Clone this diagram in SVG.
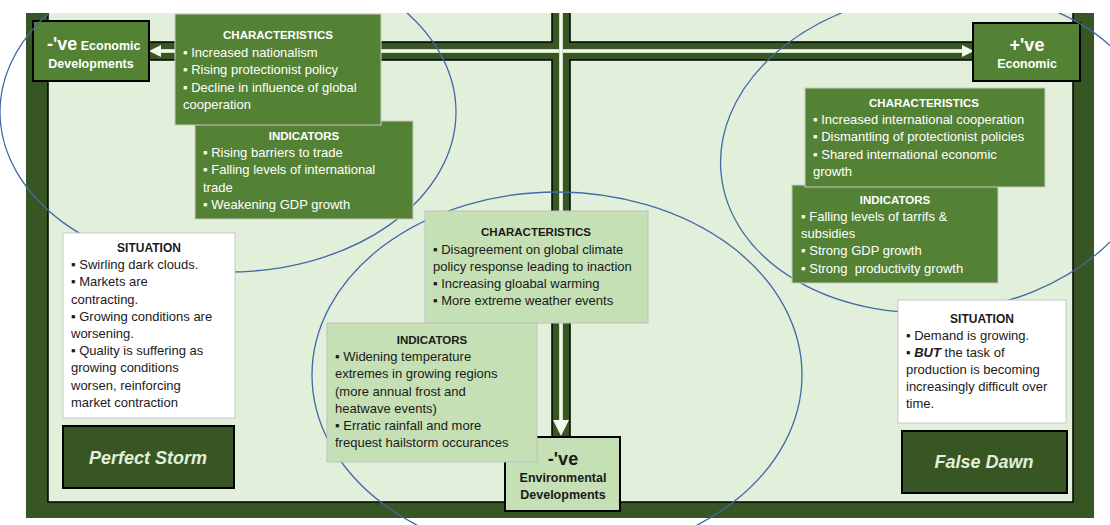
<svg xmlns="http://www.w3.org/2000/svg" width="1110" height="525" viewBox="0 0 1110 525">
<style>
text{font-family:"Liberation Sans",Arial,"DejaVu Sans",sans-serif;}
.body{font-size:13px;}
.ttl{font-size:11.5px;font-weight:bold;text-anchor:middle;}
.w{fill:#ffffff;}
.k{fill:#1a1a1a;}
.dbox{fill:#548235;stroke:#c9c9c9;stroke-width:1;}
.lbox{fill:#c5e0b4;stroke:#bfbfbf;stroke-width:1;}
.wbox{fill:#ffffff;stroke:#c8c8c8;stroke-width:1;}
.node{stroke:#000;stroke-width:2;}
.scen{fill:#375623;stroke:#000;stroke-width:2;}
.scent{font-size:18px;font-weight:bold;font-style:italic;fill:#e2efda;text-anchor:middle;}
.zone{fill:none;stroke:#4169a8;stroke-width:1.3;}
.nt{font-weight:bold;text-anchor:middle;}
</style>
<defs>
<clipPath id="top"><rect x="0" y="13" width="1110" height="512"/></clipPath>
</defs>
<g id="frame">
<rect x="26" y="13" width="1068" height="505" fill="#375623"/>
<rect x="48" y="13" width="1025" height="489" fill="#e2efda"/>
<path d="M48,13 V502 H1073 V13" fill="none" stroke="#000" stroke-width="1.5"/>
</g>
<g id="connectors" clip-path="url(#top)">
<path d="M148,42 H552 V10 H570 V42 H973 V60 H570 V437 H552 V60 H148 Z" fill="#375623" stroke="#000" stroke-width="1.5"/>
<line x1="160" y1="51" x2="963" y2="51" stroke="#cfe3c3" stroke-width="4"/>
<line x1="160" y1="51" x2="963" y2="51" stroke="#ffffff" stroke-width="1.5"/>
<line x1="561" y1="10" x2="561" y2="421" stroke="#cfe3c3" stroke-width="4"/>
<line x1="561" y1="10" x2="561" y2="421" stroke="#ffffff" stroke-width="1.5"/>
<polygon points="149,51 161,45 161,57" fill="#f2f8ee"/>
<polygon points="974,51 962,45 962,57" fill="#f2f8ee"/>
<polygon points="561,436 553,420 569,420" fill="#f2f8ee"/>
</g>
<g id="node-neg-econ">
<rect x="33" y="21" width="116" height="60" fill="#548235" class="node"/>
<text x="47" y="50" class="w" font-weight="bold"><tspan font-size="18">-'ve</tspan><tspan font-size="12.5"> Economic</tspan></text>
<text x="91" y="68" class="w nt" font-size="12.5">Developments</text>
</g>
<g id="node-pos-econ">
<rect x="973" y="23" width="107" height="58" fill="#548235" class="node"/>
<text x="1027" y="51" class="w nt" font-size="18">+'ve</text>
<text x="1027" y="68" class="w nt" font-size="12.5">Economic</text>
</g>
<g id="node-neg-env">
<rect x="505" y="437" width="115" height="74" fill="#c5e0b4" class="node"/>
<text x="563" y="465" class="k nt" font-size="18">-'ve</text>
<text x="563" y="482" class="k nt" font-size="12.5">Environmental</text>
<text x="563" y="499" class="k nt" font-size="12.5">Developments</text>
</g>
<g id="zones" clip-path="url(#top)">
<ellipse cx="228" cy="112" rx="228" ry="160" class="zone"/>
<ellipse cx="938" cy="152" rx="218" ry="160" class="zone" transform="rotate(-6 938 152)"/>
<ellipse cx="557" cy="375" rx="245" ry="183" class="zone"/>
</g>
<g id="neg-econ-indicators">
<rect x="195" y="121" width="218" height="98" class="dbox"/>
<text x="304" y="140" class="ttl w">INDICATORS</text>
<text class="body w"><tspan x="203" y="157">▪ Rising barriers to trade</tspan><tspan x="203" y="174">▪ Falling levels of international</tspan><tspan x="203" y="192">trade</tspan><tspan x="203" y="209">▪ Weakening GDP growth</tspan></text>
</g>
<g id="neg-econ-characteristics">
<rect x="175" y="14" width="206" height="111" class="dbox"/>
<text x="278" y="39" class="ttl w">CHARACTERISTICS</text>
<text class="body w"><tspan x="183" y="57">▪ Increased nationalism</tspan><tspan x="183" y="74">▪ Rising protectionist policy</tspan><tspan x="183" y="92">▪ Decline in influence of global</tspan><tspan x="183" y="109">cooperation</tspan></text>
</g>
<g id="pos-econ-indicators">
<rect x="792" y="185" width="206" height="98" class="dbox"/>
<text x="895" y="204" class="ttl w">INDICATORS</text>
<text class="body w"><tspan x="801" y="221">▪ Falling levels of tarrifs &amp;</tspan><tspan x="801" y="238">subsidies</tspan><tspan x="801" y="255">▪ Strong GDP growth</tspan><tspan x="801" y="273">▪ Strong&#160; productivity growth</tspan></text>
</g>
<g id="pos-econ-characteristics">
<rect x="805" y="88" width="240" height="99" class="dbox"/>
<text x="924" y="107" class="ttl w">CHARACTERISTICS</text>
<text class="body w"><tspan x="813" y="124">▪ Increased international cooperation</tspan><tspan x="813" y="141">▪ Dismantling of protectionist policies</tspan><tspan x="813" y="159">▪ Shared international economic</tspan><tspan x="813" y="176">growth</tspan></text>
</g>
<g id="env-indicators">
<rect x="327" y="323" width="210" height="139" class="lbox"/>
<text x="432" y="344" class="ttl k">INDICATORS</text>
<text class="body k"><tspan x="335" y="361">▪ Widening temperature</tspan><tspan x="335" y="378">extremes in growing regions</tspan><tspan x="335" y="396">(more annual frost and</tspan><tspan x="335" y="413">heatwave events)</tspan><tspan x="335" y="430">▪ Erratic rainfall and more</tspan><tspan x="335" y="447">frequest hailstorm occurances</tspan></text>
</g>
<g id="env-characteristics">
<rect x="425" y="211" width="223" height="112" class="lbox"/>
<text x="536" y="236" class="ttl k">CHARACTERISTICS</text>
<text class="body k"><tspan x="433" y="254">▪ Disagreement on global climate</tspan><tspan x="433" y="271">policy response leading to inaction</tspan><tspan x="433" y="288">▪ Increasing gloabal warming</tspan><tspan x="433" y="305">▪ More extreme weather events</tspan></text>
</g>
<g id="situation-perfect-storm">
<rect x="63" y="233" width="172" height="185" class="wbox"/>
<text x="149" y="252" class="k nt" font-size="12">SITUATION</text>
<text class="body k"><tspan x="71" y="269">▪ Swirling dark clouds.</tspan><tspan x="71" y="286">▪ Markets are</tspan><tspan x="71" y="303.5">contracting.</tspan><tspan x="71" y="320.5">▪ Growing conditions are</tspan><tspan x="71" y="338">worsening.</tspan><tspan x="71" y="355">▪ Quality is suffering as</tspan><tspan x="71" y="372">growing conditions</tspan><tspan x="71" y="389.5">worsen, reinforcing</tspan><tspan x="71" y="406.5">market contraction</tspan></text>
</g>
<g id="scenario-perfect-storm">
<rect x="63" y="426" width="171" height="62" class="scen"/>
<text x="148" y="464" class="scent">Perfect Storm</text>
</g>
<g id="situation-false-dawn">
<rect x="898" y="300" width="168" height="123" class="wbox"/>
<text x="982" y="323" class="k nt" font-size="12">SITUATION</text>
<text class="body k"><tspan x="906" y="340">▪ Demand is growing.</tspan><tspan x="906" y="357">▪ <tspan font-weight="bold" font-style="italic">BUT</tspan> the task of</tspan><tspan x="906" y="374">production is becoming</tspan><tspan x="906" y="391">increasingly difficult over</tspan><tspan x="906" y="408">time.</tspan></text>
</g>
<g id="scenario-false-dawn">
<rect x="902" y="431" width="165" height="62" class="scen"/>
<text x="984" y="468" class="scent">False Dawn</text>
</g>
</svg>
